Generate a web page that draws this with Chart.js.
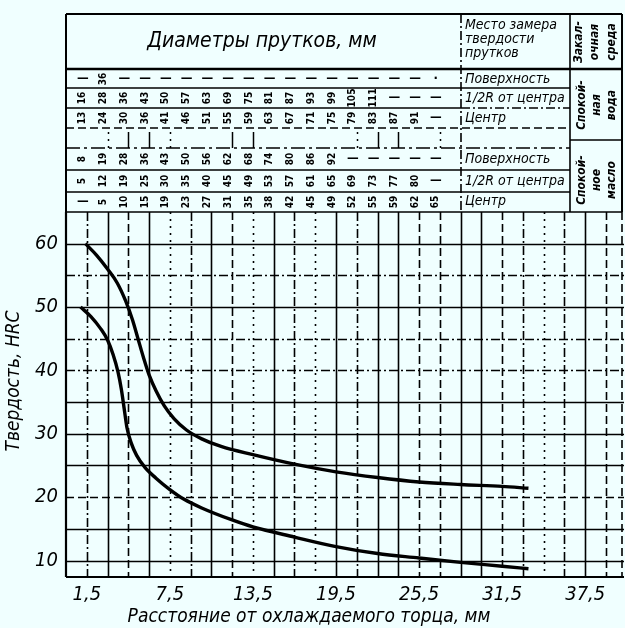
<!DOCTYPE html>
<html lang="ru">
<head>
<meta charset="utf-8">
<title>Прокаливаемость</title>
<script src="https://cdn.jsdelivr.net/npm/chart.js@4.4.1/dist/chart.umd.min.js"></script>
<style>
  html, body { margin: 0; padding: 0; background: #f0ffff; }
  #wrap { width: 625px; height: 628px; }
</style>
</head>
<body>
<div id="wrap"><canvas id="hardChart" width="625" height="628"></canvas></div>
<script>
// upper boundary of the band (distance, mm / HRC)
const upperDist = [1.4, 2.2, 3, 3.7, 4.3, 4.8, 5.2, 5.6, 6.0, 6.5, 7.1, 7.8, 8.7, 9.8, 11.2, 13.5, 16.5, 19.5, 22.5, 25.5, 28.5, 31.5, 33.4];
const upperHrc = [60, 58.2, 56, 53.8, 51, 48, 45, 42, 39.3, 36.8, 34.4, 32.4, 30.6, 29.2, 28, 26.7, 25.2, 24, 23.1, 22.4, 22, 21.7, 21.4];

// lower boundary of the band
const lowerDist = [1.05, 1.8, 2.5, 3, 3.4, 3.75, 4.0, 4.2, 4.4, 4.7, 5.1, 5.7, 6.5, 7.5, 8.5, 9.8, 12, 13.5, 16.5, 19.5, 22.5, 25.5, 28.5, 31.5, 33.4];
const lowerHrc = [50, 48.5, 46.6, 44.8, 42.5, 39.8, 37, 34, 31, 28.6, 26.6, 24.7, 23, 21.2, 19.7, 18.3, 16.4, 15.3, 13.7, 12.2, 11.1, 10.4, 9.7, 9.1, 8.7];

const xTicks = [1.5, 7.5, 13.5, 19.5, 25.5, 31.5, 37.5];
const yTicks = [10, 20, 30, 40, 50, 60];
const xGrid = [1.5, 3, 4.5, 6, 7.5, 9, 10.5, 12, 13.5, 15, 16.5, 18, 19.5, 21, 22.5, 24, 25.5, 27, 28.5, 30, 31.5, 33, 34.5, 36, 37.5, 39];
const yGrid = [10, 15, 20, 25, 30, 35, 40, 45, 50, 55, 60];

// table of bar diameters, one column per distance
const tableDist = [1.5, 3, 4.5, 6, 7.5, 9, 10.5, 12, 13.5, 15, 16.5, 18, 19.5, 21, 22.5, 24, 25.5, 27];
const waterSurface = ["—", "36", "—", "—", "—", "—", "—", "—", "—", "—", "—", "—", "—", "—", "—", "—", "—", "·"];
const waterHalfR = ["16", "28", "36", "43", "50", "57", "63", "69", "75", "81", "87", "93", "99", "105", "111", "—", "—", "—"];
const waterCenter = ["13", "24", "30", "36", "41", "46", "51", "55", "59", "63", "67", "71", "75", "79", "83", "87", "91", "—"];
const oilSurface = ["8", "19", "28", "36", "43", "50", "56", "62", "68", "74", "80", "86", "92", "—", "—", "—", "—", "—"];
const oilHalfR = ["5", "12", "19", "25", "30", "35", "40", "45", "49", "53", "57", "61", "65", "69", "73", "77", "80", "—"];
const oilCenter = ["—", "5", "10", "15", "19", "23", "27", "31", "35", "38", "42", "45", "49", "52", "55", "59", "62", "65"];

const rowLabels = ["Поверхность", "1/2R от центра", "Центр"];

// line styles for the grid (not data)
const DASH = { solid: [], dash: [8, 4], dashdot: [9, 3, 2, 3], dot: [2, 5] };
const vStyle = ["dashdot", "solid", "dash", "solid", "dot", "dashdot", "solid", "dash", "dot", "solid",
  "dashdot", "dot", "solid", "dashdot", "solid", "solid", "dash", "dash", "solid", "solid",
  "dash", "dashdot", "dot", "dashdot", "solid", "dash"];
const hStyle = ["solid", "solid", "dash", "solid", "solid", "solid", "dashdot", "dashdot", "solid", "dashdot", "solid"];

const NARROW = "'Liberation Sans Narrow', 'DejaVu Sans Condensed', 'Liberation Sans', sans-serif";
const INK = "#000";

function seg(ctx, x1, y1, x2, y2) {
  ctx.beginPath();
  ctx.moveTo(x1, y1);
  ctx.lineTo(x2, y2);
  ctx.stroke();
}

function rotText(ctx, txt, cx, cy) {
  ctx.save();
  ctx.translate(cx, cy);
  ctx.rotate(-Math.PI / 2);
  ctx.fillText(txt, 0, 0);
  ctx.restore();
}

function drawTable(chart) {
  const { ctx, chartArea: a, scales: { x } } = chart;
  const L = a.left, R = a.right - 2, TOP = 14, BOT = a.top;
  const SEP1 = 461, SEP2 = 570;
  ctx.save();
  ctx.strokeStyle = INK;
  ctx.fillStyle = INK;

  // frame
  ctx.lineWidth = 2;
  seg(ctx, L, TOP, R, TOP);
  seg(ctx, L, TOP, L, BOT);
  seg(ctx, R, TOP, R, BOT);
  ctx.lineWidth = 2.5;
  seg(ctx, L, 69, R, 69);
  ctx.lineWidth = 1.6;
  seg(ctx, L, BOT, R, BOT);
  seg(ctx, SEP2, TOP, SEP2, BOT);
  ctx.setLineDash(DASH.dashdot);
  seg(ctx, SEP1, TOP, SEP1, BOT);

  // row lines
  ctx.setLineDash([]);
  [88, 170, 192].forEach(yy => seg(ctx, L, yy, SEP2, yy));
  seg(ctx, L, 108, SEP1, 108);
  ctx.setLineDash(DASH.dashdot);
  seg(ctx, SEP1, 108, SEP2, 108);
  ctx.setLineDash(DASH.dash);
  seg(ctx, L, 128, SEP2, 128);
  ctx.setLineDash([14, 4, 3, 4]);
  seg(ctx, L, 148, SEP2, 148);
  ctx.setLineDash([]);
  seg(ctx, SEP2, 140, R, 140);

  // little marks in the blank row
  ctx.lineWidth = 1.5;
  [3, 4.5, 6, 7.5, 12, 13.5, 21, 22.5, 24, 27].forEach((d, i) => {
    const px = Math.round(x.getPixelForValue(d)) + 0.5;
    ctx.setLineDash(i % 3 === 0 ? DASH.dot : []);
    seg(ctx, px, 132, px, 148);
  });
  ctx.setLineDash([]);

  // header texts
  ctx.textAlign = "center";
  ctx.textBaseline = "middle";
  ctx.font = "italic 21px " + NARROW;
  ctx.fillText("Диаметры прутков, мм", 262, 42);

  ctx.textAlign = "left";
  ctx.font = "italic 14px " + NARROW;
  ctx.fillText("Место замера", 465, 25, 100);
  ctx.fillText("твердости", 465, 39, 100);
  ctx.fillText("прутков", 465, 53, 100);

  ctx.textAlign = "center";
  ctx.font = "italic bold 12px " + NARROW;
  rotText(ctx, "Закал-", 579, 42);
  rotText(ctx, "очная", 595, 42);
  rotText(ctx, "среда", 612, 42);

  // row labels
  ctx.textAlign = "left";
  ctx.font = "italic 14px " + NARROW;
  [79, 98, 118].forEach((yy, i) => ctx.fillText(rowLabels[i], 465, yy, 100));
  [159, 181, 201].forEach((yy, i) => ctx.fillText(rowLabels[i], 465, yy, 100));

  // regime cells
  ctx.textAlign = "center";
  ctx.font = "italic bold 12px " + NARROW;
  rotText(ctx, "Спокой-", 582, 105);
  rotText(ctx, "ная", 597, 105);
  rotText(ctx, "вода", 612, 105);
  rotText(ctx, "Спокой-", 582, 180);
  rotText(ctx, "ное", 597, 180);
  rotText(ctx, "масло", 612, 180);

  // diameter numbers
  const rows = [
    [waterSurface, 79], [waterHalfR, 98], [waterCenter, 118],
    [oilSurface, 159], [oilHalfR, 181], [oilCenter, 202]
  ];
  rows.forEach(([vals, yy]) => {
    vals.forEach((v, i) => {
      const cx = x.getPixelForValue(tableDist[i]) - 4;
      if (v === "—" || v === "·") {
        ctx.font = "bold 13px " + NARROW;
        ctx.fillText(v, cx, yy);
      } else {
        ctx.font = "bold 10px " + NARROW;
        rotText(ctx, v, cx, yy);
      }
    });
  });
  ctx.restore();
}

function drawTitles(chart) {
  const ctx = chart.ctx;
  ctx.save();
  ctx.fillStyle = INK;
  ctx.textAlign = "center";
  ctx.textBaseline = "middle";
  ctx.font = "italic 19px " + NARROW;
  ctx.fillText("Расстояние от охлаждаемого торца, мм", 309, 617);
  rotText(ctx, "Твердость, HRC", 14, 381);
  ctx.restore();
}

const sheetPlugin = {
  id: "sheet",
  beforeDraw(chart) {
    const ctx = chart.ctx;
    ctx.save();
    ctx.fillStyle = "#f0ffff";
    ctx.fillRect(0, 0, chart.width, chart.height);
    ctx.restore();
  },
  beforeDatasetsDraw(chart) {
    const { ctx, chartArea: a, scales: { x, y } } = chart;
    ctx.save();
    ctx.strokeStyle = INK;
    ctx.lineWidth = 1.6;
    xGrid.forEach((v, i) => {
      const px = Math.round(x.getPixelForValue(v)) + 0.5;
      ctx.setLineDash(DASH[vStyle[i]]);
      seg(ctx, px, a.top, px, a.bottom);
    });
    yGrid.forEach((v, i) => {
      const py = Math.round(y.getPixelForValue(v)) + 0.5;
      ctx.setLineDash(DASH[hStyle[i]]);
      seg(ctx, a.left, py, a.right, py);
    });
    ctx.setLineDash(DASH.dash);
    seg(ctx, a.right - 2, a.top, a.right - 2, a.bottom);
    ctx.setLineDash([]);
    ctx.lineWidth = 2.2;
    seg(ctx, a.left, a.top, a.left, a.bottom);
    seg(ctx, a.left, a.bottom, a.right, a.bottom);
    ctx.restore();
  },
  afterDraw(chart) {
    drawTable(chart);
    drawTitles(chart);
  }
};

const toPoints = (xs, ys) => xs.map((v, i) => ({ x: v, y: ys[i] }));

const tickFont = { family: NARROW, size: 20, style: "italic" };

new Chart(document.getElementById("hardChart"), {
  type: "line",
  data: {
    datasets: [
      {
        label: "max",
        data: toPoints(upperDist, upperHrc),
        borderColor: INK,
        borderWidth: 3.4,
        pointRadius: 0,
        cubicInterpolationMode: "monotone",
        fill: false
      },
      {
        label: "min",
        data: toPoints(lowerDist, lowerHrc),
        borderColor: INK,
        borderWidth: 3.4,
        pointRadius: 0,
        cubicInterpolationMode: "monotone",
        fill: false
      }
    ]
  },
  options: {
    responsive: false,
    animation: false,
    devicePixelRatio: 1,
    layout: { padding: { top: 212, right: 1, left: 0, bottom: 0 } },
    plugins: { legend: { display: false }, tooltip: { enabled: false } },
    scales: {
      x: {
        type: "linear",
        min: 0,
        max: 40.3,
        grid: { display: false, drawTicks: false },
        border: { display: false },
        afterBuildTicks: s => { s.ticks = xTicks.map(v => ({ value: v })); },
        afterFit: s => { s.height = 51; },
        ticks: {
          color: INK,
          font: tickFont,
          padding: 6,
          maxRotation: 0,
          autoSkip: false,
          callback: v => String(v).replace(".", ",")
        }
      },
      y: {
        type: "linear",
        min: 7.4,
        max: 65,
        grid: { display: false, drawTicks: false },
        border: { display: false },
        afterBuildTicks: s => { s.ticks = yTicks.map(v => ({ value: v })); },
        afterFit: s => { s.width = 66; },
        ticks: { color: INK, font: tickFont, padding: 8 }
      }
    }
  },
  plugins: [sheetPlugin]
});
</script>
</body>
</html>
